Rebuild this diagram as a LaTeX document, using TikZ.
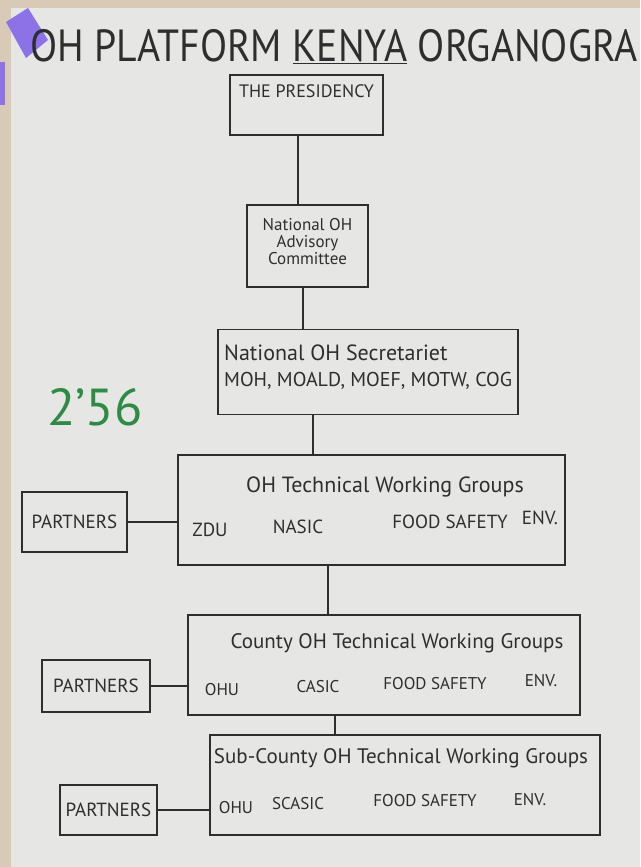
\documentclass[tikz,border=0pt]{standalone}
\usepackage{fontspec}
\setmainfont{PT Sans}
\definecolor{ink}{HTML}{2E2E2E}
\definecolor{paper}{HTML}{E6E6E4}
\definecolor{edge}{HTML}{D8CAB6}
\definecolor{tape}{HTML}{8C72E6}
\definecolor{marker}{HTML}{2E8B45}
\newcommand{\fs}[1]{\fontsize{#1}{#1}\selectfont}
\begin{document}
\begin{tikzpicture}[x=1pt,y=-1pt,
  box/.style={draw=ink,line width=1.6pt,inner sep=0pt},
  conn/.style={draw=ink,line width=1.6pt},
  lbl/.style={text=ink,inner sep=0pt},
  item/.style={lbl,font=\fs{19}},
  citem/.style={lbl,font=\fs{17}},
  ptext/.style={box,font=\fs{19},text=ink}]
\useasboundingbox (0,0) rectangle (640,867);
% paper
\fill[paper] (0,0) rectangle (640,867);
\fill[edge] (0,0) rectangle (640,8);
\fill[edge] (0,0) rectangle (11,867);
\fill[tape] (6,22) -- (28,8) -- (48,40) -- (26,58) -- cycle;
\fill[tape] (0,62) rectangle (5,105);
% title
\node[lbl,anchor=west,font=\fs{45},xscale=0.88,transform shape] (title) at (30,47) {OH PLATFORM \underline{KENYA} ORGANOGRA};
% boxes
\node[box,minimum width=153,minimum height=60] (pres) at (306.5,105) {};
\node[box,minimum width=121,minimum height=82] (adv) at (307.5,246) {};
\node[box,minimum width=300,minimum height=85] (sec) at (368,372) {};
\node[box,minimum width=387,minimum height=110] (twg) at (371.5,510) {};
\node[box,minimum width=392,minimum height=100] (cty) at (384,665) {};
\node[box,minimum width=390,minimum height=100] (scty) at (405,785) {};
\node[ptext,minimum width=105,minimum height=60] (p1) at (74.5,522) {PARTNERS};
\node[ptext,minimum width=108,minimum height=52] (p2) at (96,686) {PARTNERS};
\node[ptext,minimum width=97,minimum height=50] (p3) at (108.5,810) {PARTNERS};
% box texts
\node[lbl,font=\fs{18}] (presT) at (306.5,91) {THE PRESIDENCY};
\node[lbl,font=\fs{17},align=center] (advT) at (307.5,242) {National OH\\Advisory\\Committee};
\node[lbl,font=\fs{20},align=left,anchor=west] (secT) at (224,367) {{\fs{22}National OH Secretariet}\\[6pt]MOH, MOALD, MOEF, MOTW, COG};
\node[lbl,font=\fs{52},text=marker] (time) at (95,407) {2'56};
\node[lbl,font=\fs{22}] (twgT) at (385,487) {OH Technical Working Groups};
\node[item] (zdu) at (210,530) {ZDU};
\node[item] (nasic) at (298,527) {NASIC};
\node[item] (fs1) at (450,522) {FOOD SAFETY};
\node[item] (env1) at (540,518) {ENV.};
\node[lbl,font=\fs{21}] (ctyT) at (397,643) {County OH Technical Working Groups};
\node[citem] (ohu1) at (222,690) {OHU};
\node[citem] (casic) at (318,687) {CASIC};
\node[citem] (fs2) at (435,684) {FOOD SAFETY};
\node[citem] (env2) at (541,681) {ENV.};
\node[lbl,font=\fs{21}] (sctyT) at (401,758) {Sub-County OH Technical Working Groups};
\node[citem] (ohu2) at (236,808) {OHU};
\node[citem] (scasic) at (298,804) {SCASIC};
\node[citem] (fs3) at (425,801) {FOOD SAFETY};
\node[citem] (env3) at (530,800) {ENV.};
% connectors
\draw[conn] ([xshift=-8.5pt]pres.south) -- ([xshift=-8.5pt]pres.south |- adv.north);
\draw[conn] ([xshift=-4.5pt]adv.south) -- ([xshift=-4.5pt]adv.south |- sec.north);
\draw[conn] ([xshift=-55pt]sec.south) -- ([xshift=-55pt]sec.south |- twg.north);
\draw[conn] ([xshift=-43.5pt]twg.south) -- ([xshift=-43.5pt]twg.south |- cty.north);
\draw[conn] ([xshift=-49pt]cty.south) -- ([xshift=-49pt]cty.south |- scty.north);
\draw[conn] (p1.east) -- (p1.east -| twg.west);
\draw[conn] (p2.east) -- (p2.east -| cty.west);
\draw[conn] (p3.east) -- (p3.east -| scty.west);
\end{tikzpicture}
\end{document}
